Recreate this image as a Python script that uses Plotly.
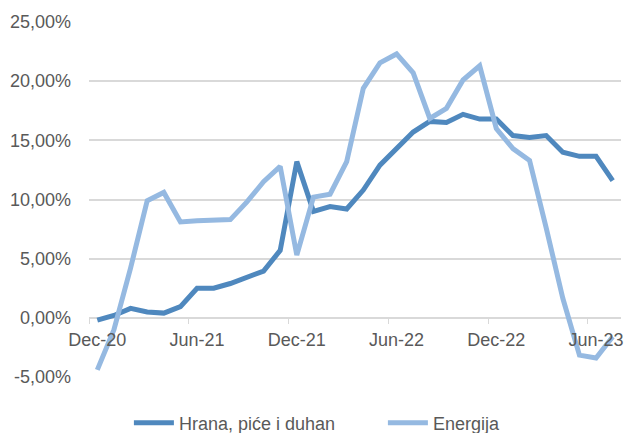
import plotly.graph_objects as go

# monthly data Dec-20 .. Jul-23
months = ['Dec-20', 'Jan-21', 'Feb-21', 'Mar-21', 'Apr-21', 'May-21', 'Jun-21', 'Jul-21',
          'Aug-21', 'Sep-21', 'Oct-21', 'Nov-21', 'Dec-21', 'Jan-22', 'Feb-22', 'Mar-22',
          'Apr-22', 'May-22', 'Jun-22', 'Jul-22', 'Aug-22', 'Sep-22', 'Oct-22', 'Nov-22',
          'Dec-22', 'Jan-23', 'Feb-23', 'Mar-23', 'Apr-23', 'May-23', 'Jun-23', 'Jul-23']

hrana = [-0.2, 0.2, 0.8, 0.5, 0.4, 0.95, 2.5, 2.5, 2.9, 3.4, 3.95, 5.7,
         13.2, 9.0, 9.4, 9.2, 10.8, 12.9, 14.3, 15.7, 16.6, 16.5, 17.2, 16.8,
         16.8, 15.4, 15.25, 15.4, 14.0, 13.65, 13.65, 11.6]

energija = [-4.4, -1.0, 4.2, 9.9, 10.6, 8.1, 8.2, 8.2, 8.3, 9.8, 11.5, 12.8,
            5.3, 10.2, 10.45, 13.2, 19.4, 21.55, 22.3, 20.7, 16.85, 17.7, 20.1, 21.3,
            16.0, 14.3, 13.3, 7.6, 1.65, -3.15, -3.4, -1.6]

y_ticks = [-5, 0, 5, 10, 15, 20, 25]
y_labels = ['-5,00%', '0,00%', '5,00%', '10,00%', '15,00%', '20,00%', '25,00%']
x_ticks = [0, 6, 12, 18, 24, 30]

idx = list(range(len(months)))

fig = go.Figure()
fig.add_trace(go.Scatter(x=idx, y=hrana, mode='lines', name='Hrana, piće i duhan',
                         line=dict(color='#4F88BE', width=5), customdata=months))
fig.add_trace(go.Scatter(x=idx, y=energija, mode='lines', name='Energija',
                         line=dict(color='#95B9E1', width=5), customdata=months))

fig.update_layout(
    width=627, height=433,
    margin=dict(l=89, r=6, t=22, b=56, autoexpand=False),
    paper_bgcolor='white', plot_bgcolor='white',
    font=dict(family='Liberation Sans, Arial', size=18, color='#595959'),
    showlegend=True,
    legend=dict(orientation='h', x=0.075, xanchor='left', y=-0.13, yanchor='middle',
                font=dict(size=18, color='#595959'), itemwidth=40, entrywidth=199),
)
fig.update_xaxes(
    range=[-0.5, 31.5], tickvals=x_ticks, ticktext=[months[i] for i in x_ticks],
    showgrid=False, zeroline=False, showline=False, ticks='',
    anchor='free', position=1 / 6, ticklabelstandoff=9,
    minor=dict(tick0=-0.5, dtick=6, ticks='outside', ticklen=5, tickcolor='#D9D9D9'),
)
fig.update_yaxes(
    range=[-5, 25], tickvals=y_ticks, ticktext=y_labels,
    showgrid=True, gridcolor='#D9D9D9', gridwidth=1.5, zeroline=False,
    ticks='', ticklabelstandoff=17,
)

# drop the default page margin so the chart sits at the window edge
fig.write_html("out.html", config={'displayModeBar': False},
               post_script="document.body.style.margin='0';")
